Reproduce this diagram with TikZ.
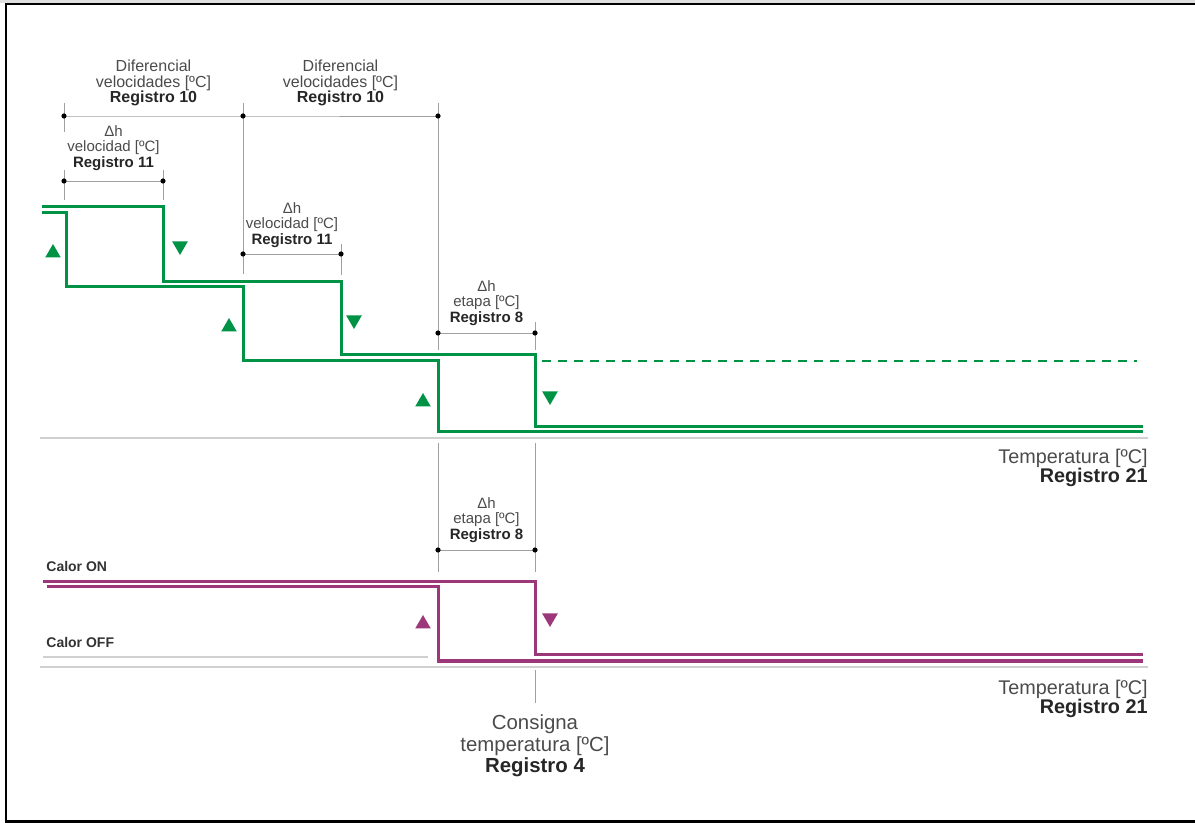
\documentclass[tikz,border=0pt]{standalone}
\usepackage{fontspec}
\setmainfont{Liberation Sans}
\usetikzlibrary{shapes.geometric}
\definecolor{curvegreen}{RGB}{0,146,69}
\definecolor{curvepurple}{RGB}{156,56,122}
\definecolor{axisgray}{RGB}{208,208,208}
\definecolor{dimgray}{RGB}{160,160,160}
\definecolor{textgray}{RGB}{75,75,75}
\tikzset{
  greenline/.style={curvegreen, line width=1.5pt},
  purpleline/.style={curvepurple, line width=1.5pt},
  axisline/.style={axisgray, line width=1.1pt},
  dimline/.style={dimgray, line width=0.45pt},
  dimdot/.style={circle, fill=black, inner sep=0pt, minimum size=2.6pt},
  uptri/.style={regular polygon, regular polygon sides=3, fill=#1, inner sep=0pt, minimum size=9pt},
  downtri/.style={uptri=#1, shape border rotate=180},
  diftext/.style={text=textgray, align=center, inner sep=0pt, font=\fontsize{8}{7.6}\selectfont},
  hystext/.style={text=textgray, align=center, inner sep=0pt, font=\fontsize{7.5}{7.7}\selectfont},
  axistext/.style={text=textgray, align=right, inner sep=0pt, font=\fontsize{9.9}{9.5}\selectfont},
  statetext/.style={text=black!80, inner sep=0pt, font=\fontsize{7}{7}\selectfont\bfseries},
}
\newcommand{\regbold}[1]{\textbf{\color{black!85}#1}}
\begin{document}
\begin{tikzpicture}[x=0.5pt, y=-0.5pt]
\useasboundingbox (0,0) rectangle (1195,823);
\fill[gray!25] (0,0) rectangle (1195,3);
\fill[black] (5,3.5) rectangle (1195,5.5);
\fill[black] (5,3.5) rectangle (7,823);
\fill[black] (5,820) rectangle (1195,823);

% tick points
\coordinate (t10a) at (64,116);
\coordinate (t10b) at (243,116);
\coordinate (t10c) at (438,116);
\coordinate (t11a) at (64,181);
\coordinate (t11b) at (163,181);
\coordinate (t11c) at (243,254);
\coordinate (t11d) at (341,254);
\coordinate (t8a) at (438,333);
\coordinate (t8b) at (535,333);
\coordinate (t8c) at (438,550);
\coordinate (t8d) at (535,550);

% extension lines
\draw[dimline] (64,103) -- (64,132) (64,170) -- (64,200);
\draw[dimline] (163,170) -- (163,200);
\draw[dimline] (243,103) -- (243,274);
\draw[dimline] (341,244) -- (341,275);
\draw[dimline] (438,103) -- (438,350);
\draw[dimline] (535,322) -- (535,350);
\draw[dimline] (438,443) -- (438,572);
\draw[dimline] (535,443) -- (535,572);
\draw[dimline] (535,670) -- (535,703);

% dimension lines
\draw[dimline] (t10a) -- (t10b) -- (t10c);
\draw[dimline] (t11a) -- (t11b);
\draw[dimline] (t11c) -- (t11d);
\draw[dimline] (t8a) -- (t8b);
\draw[dimline] (t8c) -- (t8d);
\foreach \p in {t10a,t10b,t10c,t11a,t11b,t11c,t11d,t8a,t8b,t8c,t8d}
  \node[dimdot] at (\p) {};

% axes
\draw[axisline] (40,438) -- (1148,438);
\draw[axisline] (40,667) -- (1148,667);
\draw[axisgray, line width=0.7pt] (43,657) -- (428,657);

% speed curves
\draw[greenline] (42,207) -| (163,282) -| (341,355) -| (535,427) -- (1143,427);
\draw[greenline] (42,213) -| (66,287) -| (243,361) -| (438,432) -- (1143,432);
\draw[curvegreen, line width=1.1pt, dash pattern=on 4.5pt off 3.5pt] (542,361) -- (1137,361);

% heating curves
\draw[purpleline] (43,582) -| (535,655) -- (1143,655);
\draw[purpleline] (47,587) -| (438,661) -- (1143,661);

% arrows
\node[uptri=curvegreen] (up1) at (53,253) {};
\node[uptri=curvegreen] (up2) at (229,327) {};
\node[uptri=curvegreen] (up3) at (423,402) {};
\node[downtri=curvegreen] (dn1) at (180,246) {};
\node[downtri=curvegreen] (dn2) at (354,320) {};
\node[downtri=curvegreen] (dn3) at (550,396) {};
\node[uptri=curvepurple] (up4) at (423,624) {};
\node[downtri=curvepurple] (dn4) at (550,618) {};

% labels
\node[diftext] (dif1) at (153.5,83) {Diferencial\\velocidades [ºC]\\\regbold{Registro 10}};
\node[diftext] (dif2) at (340.5,83) {Diferencial\\velocidades [ºC]\\\regbold{Registro 10}};
\node[hystext] (hvel1) at (113.5,148) {Δh\\velocidad [ºC]\\\regbold{Registro 11}};
\node[hystext] (hvel2) at (292,225) {Δh\\velocidad [ºC]\\\regbold{Registro 11}};
\node[hystext] (heta1) at (486.5,303) {Δh\\etapa [ºC]\\\regbold{Registro 8}};
\node[hystext] (heta2) at (486.5,520) {Δh\\etapa [ºC]\\\regbold{Registro 8}};
\node[axistext, anchor=east] (temp1) at (1148,468) {Temperatura [ºC]\\\regbold{Registro 21}};
\node[axistext, anchor=east] (temp2) at (1148,699) {Temperatura [ºC]\\\regbold{Registro 21}};
\node[text=textgray, align=center, inner sep=0pt, font=\fontsize{10.2}{10.7}\selectfont] (cons) at (535,746) {Consigna\\temperatura [ºC]\\\regbold{Registro 4}};
\node[statetext, anchor=base west] (on) at (46,572) {Calor ON};
\node[statetext, anchor=base west] (off) at (46,647) {Calor OFF};
\end{tikzpicture}
\end{document}
